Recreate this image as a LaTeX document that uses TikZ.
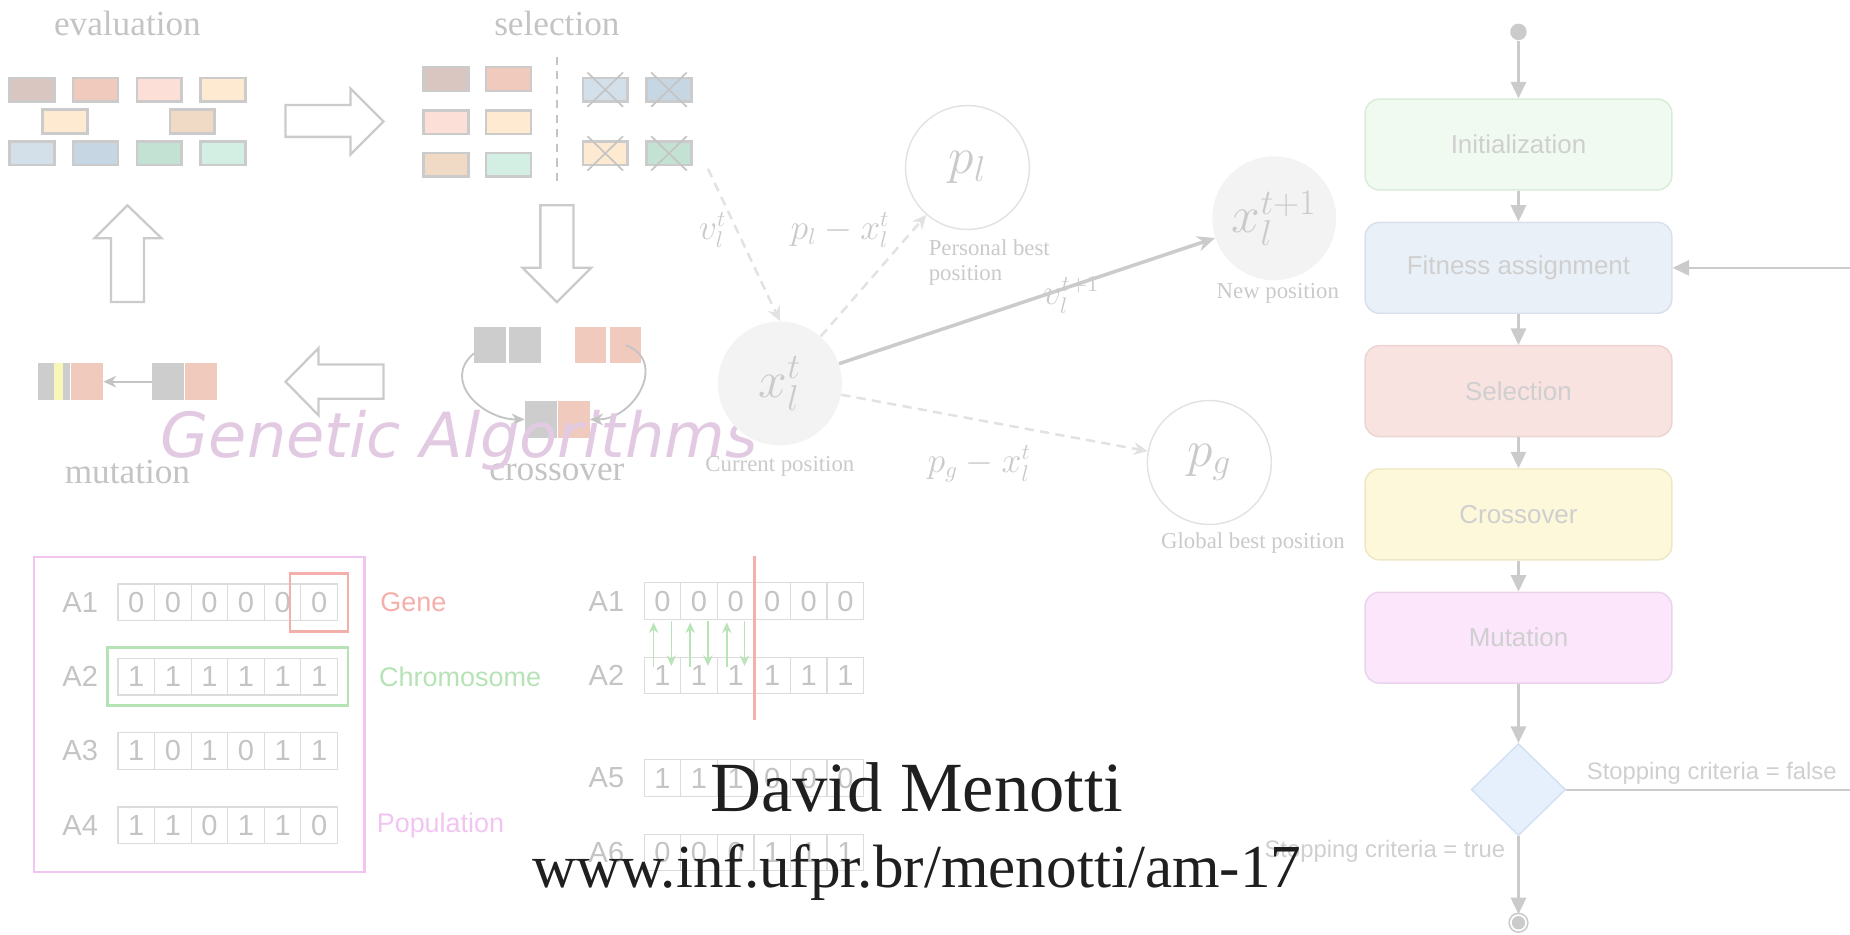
\documentclass[tikz,border=0pt]{standalone}
\usepackage{fontspec}
\setmainfont{Liberation Serif}
\setsansfont{Liberation Sans}
\newfontfamily\wmfont{DejaVu Sans}
\usepackage{tikz}
\usetikzlibrary{shapes.geometric, arrows, arrows.meta, positioning, fit}

\definecolor{linegray}{HTML}{CBCBCB}
\definecolor{textgray}{HTML}{C4C4C4}
\definecolor{gaBrown}{HTML}{D9C6C1}
\definecolor{gaSalmon}{HTML}{F1CABE}
\definecolor{gaPink}{HTML}{FCDFD6}
\definecolor{gaCream}{HTML}{FDEAD1}
\definecolor{gaTan}{HTML}{F0DAC6}
\definecolor{gaLBlue}{HTML}{D3E0EA}
\definecolor{gaBlue}{HTML}{C7D6E3}
\definecolor{gaGreen}{HTML}{C3E2D4}
\definecolor{gaMint}{HTML}{D3EEE3}
\definecolor{gaGray}{HTML}{CDCDCD}
\definecolor{gaYellow}{HTML}{F9F7B8}
\definecolor{wmPurple}{HTML}{E3CAE3}
\definecolor{psoFill}{HTML}{F3F3F3}
\definecolor{psoLine}{HTML}{E2E2E2}
\definecolor{psoText}{HTML}{CACACA}
\definecolor{geneRed}{HTML}{F5AFAA}
\definecolor{chromGreen}{HTML}{B5E3B5}
\definecolor{popPink}{HTML}{F2C4F2}
\definecolor{cellGray}{HTML}{DCDCDC}
\definecolor{cutRed}{HTML}{F5B0AE}
\definecolor{swapGreen}{HTML}{B8E4B8}
\definecolor{flowText}{HTML}{CFCFCF}
\definecolor{initFill}{HTML}{F0FAF0}
\definecolor{initDraw}{HTML}{D9EBD9}
\definecolor{fitFill}{HTML}{EAF0F8}
\definecolor{fitDraw}{HTML}{D8E0EB}
\definecolor{selFill}{HTML}{F8E3E1}
\definecolor{selDraw}{HTML}{EBD4D2}
\definecolor{crossFill}{HTML}{FDF8DA}
\definecolor{crossDraw}{HTML}{EDE7C4}
\definecolor{mutFill}{HTML}{FBE6FC}
\definecolor{mutDraw}{HTML}{EAD3EC}
\definecolor{diaFill}{HTML}{E5F0FC}
\definecolor{diaDraw}{HTML}{D2E1F2}

\tikzstyle{gabox} = [rectangle, draw=linegray, line width=1.2pt, minimum width=7.6mm, minimum height=4mm, inner sep=0pt]
\tikzstyle{gacell} = [rectangle, minimum width=5.4mm, minimum height=6.2mm, inner sep=0pt]
\tikzstyle{gatitle} = [text=textgray, font=\fontsize{17}{20}\selectfont]
\tikzstyle{blockarrow} = [draw=linegray, line width=1.1pt, fill=white]
\tikzstyle{crossline} = [draw=textgray, line width=0.8pt]
\tikzstyle{gadivider} = [draw=textgray, line width=0.8pt, dash pattern=on 4pt off 3pt]
\tikzstyle{gaarrow} = [draw=textgray, line width=0.9pt, -{Stealth[length=2.2mm,width=2mm]}]
\tikzstyle{bitcell} = [rectangle, draw=cellGray, line width=0.6pt, minimum size=6.2mm, inner sep=0pt, text=textgray, font=\sffamily\fontsize{14}{16}\selectfont]
\tikzstyle{bitlabel} = [text=textgray, font=\sffamily\fontsize{14}{16}\selectfont]
\tikzstyle{swaparrow} = [draw=swapGreen, line width=0.8pt, -{Stealth[length=1.8mm,width=1.6mm]}]
\tikzstyle{psofull} = [circle, fill=psoFill, minimum size=21mm, inner sep=0pt, text=psoText, font=\fontsize{26}{30}\selectfont]
\tikzstyle{psoopen} = [circle, draw=psoLine, line width=0.7pt, minimum size=21mm, inner sep=0pt, text=psoText, font=\fontsize{26}{30}\selectfont]
\tikzstyle{psotext} = [text=psoText, font=\fontsize{11}{12}\selectfont]
\tikzstyle{psomath} = [text=psoText, font=\fontsize{16}{18}\selectfont]
\tikzstyle{psodash} = [draw=psoLine, line width=1.2pt, dash pattern=on 4.5pt off 3pt, -{Stealth[length=2.4mm,width=2.2mm]}]
\tikzstyle{psosolid} = [draw=linegray, line width=1.7pt, -{Stealth[length=3mm,width=2.6mm]}]
\tikzstyle{flowbox} = [rectangle, rounded corners=2.4mm, minimum width=52mm, minimum height=15.4mm, line width=0.7pt, text=flowText, font=\sffamily\fontsize{12.5}{14}\selectfont]
\tikzstyle{flowarrow} = [draw=linegray, line width=1pt, -{Triangle[length=2.8mm,width=2.6mm]}]
\tikzstyle{flowlabel} = [text=flowText, inner sep=0pt, font=\sffamily\fontsize{11.5}{13}\selectfont]

% name, label, left edge of first cell, y, bits
\newcommand{\bitrow}[5]{%
  \node (#1l) [bitlabel] at (#3-32,#4) {#2};
  \foreach \b [count=\i] in {#5}
    \node (#1c\i) [bitcell] at ({#3+(\i-0.5)*31},#4) {\b};
}

\begin{document}
\begin{tikzpicture}[x=0.2mm, y=-0.2mm, node distance=2.09cm]
\useasboundingbox (0,0) rectangle (1568,792);
\clip (0,0) rectangle (1568,792);

% genetic algorithm cycle
\node (evaltitle) [gatitle] at (108,20) {evaluation};
\node (seltitle) [gatitle] at (472,20) {selection};
\node (crosstitle) [gatitle] at (472,400) {crossover};
\node (mutatetitle) [gatitle] at (108,400) {mutation};

\foreach \x/\y/\c [count=\k] in {27/76/gaBrown, 81/76/gaSalmon, 135/76/gaPink, 189/76/gaCream, 55/103/gaCream, 163/103/gaTan, 27/130/gaLBlue, 81/130/gaBlue, 135/130/gaGreen, 189/130/gaMint}
  \node (eval\k) [gabox, fill=\c] at (\x,\y) {};

\foreach \x/\y/\c [count=\k] in {378/67/gaBrown, 431/67/gaSalmon, 378/103.5/gaPink, 431/103.5/gaCream, 378/139.5/gaTan, 431/139.5/gaMint}
  \node (keep\k) [gabox, fill=\c] at (\x,\y) {};

\foreach \x/\y/\c [count=\k] in {513/76/gaLBlue, 567/76/gaBlue, 513/130/gaCream, 567/130/gaGreen} {
  \node (drop\k) [gabox, fill=\c] at (\x,\y) {};
  \draw[crossline] ([shift={(1mm,0.7mm)}]drop\k.north west) -- ([shift={(-1mm,-0.7mm)}]drop\k.south east);
  \draw[crossline] ([shift={(-1mm,0.7mm)}]drop\k.north east) -- ([shift={(1mm,-0.7mm)}]drop\k.south west);
}
\draw[gadivider] (472,48) -- (472,158);

% hollow arrows between the steps
\draw[blockarrow] (242,89) -- (297,89) -- (297,75) -- (325,103) -- (297,131) -- (297,116) -- (242,116) -- cycle;
\draw[blockarrow] (458,174) -- (486,174) -- (486,227) -- (501,227) -- (472,256) -- (443,227) -- (458,227) -- cycle;
\draw[blockarrow] (325,309) -- (270,309) -- (270,295) -- (242,323.5) -- (270,352) -- (270,338) -- (325,338) -- cycle;
\draw[blockarrow] (94,256) -- (94,202) -- (80,202) -- (108,174) -- (137,202) -- (122,202) -- (122,256) -- cycle;

% crossover
\node (gp1) [gacell, fill=gaGray] at (415.5,292.5) {};
\node (gp2) [gacell, fill=gaGray, right=0.4mm of gp1] {};
\node (sp1) [gacell, fill=gaSalmon] at (500.5,292.5) {};
\node (sp2) [gacell, fill=gaSalmon, right=0.4mm of sp1] {};
\node (ch1) [gacell, fill=gaGray] at (458.5,355.5) {};
\node (ch2) [gacell, fill=gaSalmon, right=0pt of ch1] {};
\draw[gaarrow] ([yshift=-1.4mm]gp1.west) to[out=220, in=180, looseness=1.3] (ch1.west);
\draw[gaarrow] (sp2.center) to[out=-20, in=0, looseness=1.4] (ch2.east);

% mutation
\node (mr1) [gacell, fill=gaGray] at (142.5,323.5) {};
\node (mr2) [gacell, fill=gaSalmon, right=0pt of mr1] {};
\node (ml1) [gacell, fill=gaGray] at (46,323.5) {};
\node (ml2) [gacell, fill=gaSalmon, right=0pt of ml1] {};
\node (mlbit) [rectangle, fill=gaYellow, minimum width=1.4mm, minimum height=6.2mm, inner sep=0pt] at (49.5,323.5) {};
\draw[gaarrow] (mr1.west) -- (ml2.east);

\node (watermark) [anchor=base west, text=wmPurple, font=\wmfont\itshape\fontsize{30}{34}\selectfont] at (130,388) {Genetic Algorithms};

% particle swarm
\node (xt) [psofull] at (661,325) {$x_l^t$};
\node (pl) [psoopen] at (820,142) {$p_l$};
\node (xt1) [psofull] at (1080,185) {$x_l^{t+1}$};
\node (pg) [psoopen] at (1025,392) {$p_g$};
\node (xtlab) [psotext] at (661,395) {Current position};
\node (pllab) [psotext, align=left, anchor=west] at (781,222.5) {Personal best\\position};
\node (xt1lab) [psotext] at (1083,249) {New position};
\node (pglab) [psotext] at (1062,460) {Global best position};

\coordinate (vin) at (600,143);
\draw[psodash] (vin) -- (xt.north);
\draw[psodash] (xt) -- (pl);
\draw[psodash] (xt) -- (pg);
\draw[psosolid] (xt) -- (xt1);
\node (lbv) [psomath] at (604,195) {$v_l^t$};
\node (lbpl) [psomath] at (712,195) {$p_l - x_l^t$};
\node (lbv1) [psomath] at (908,250) {$v_l^{t+1}$};
\node (lbpg) [psomath] at (830,393) {$p_g - x_l^t$};

% population
\node (pop) [rectangle, draw=popPink, line width=1.2pt, minimum width=56mm, minimum height=53.4mm] at (169,605.5) {};
\bitrow{la1}{A1}{100}{510.5}{0,0,0,0,0,0}
\bitrow{la2}{A2}{100}{573.5}{1,1,1,1,1,1}
\bitrow{la3}{A3}{100}{636.5}{1,0,1,0,1,1}
\bitrow{la4}{A4}{100}{699.5}{1,1,0,1,1,0}
\node (gene) [fit=(la1c6), inner sep=1.7mm, draw=geneRed, line width=1.2pt] {};
\node (chrom) [fit=(la2c1)(la2c6), inner sep=1.7mm, draw=chromGreen, line width=1.2pt] {};
\node (genelab) [right=5.2mm of gene, inner sep=0pt, text=geneRed, font=\sffamily\fontsize{13}{15}\selectfont] {Gene};
\node (chromlab) [right=5mm of chrom, inner sep=0pt, text=chromGreen, font=\sffamily\fontsize{13}{15}\selectfont] {Chromosome};
\node (poplab) [anchor=west, inner sep=0pt, text=popPink, font=\sffamily\fontsize{13}{15}\selectfont] at (319,700) {Population};

% one point crossover
\bitrow{ma1}{A1}{546}{509.5}{0,0,0,0,0,0}
\bitrow{ma2}{A2}{546}{572.5}{1,1,1,1,1,1}
\bitrow{ma5}{A5}{546}{659.5}{1,1,1,0,0,0}
\bitrow{ma6}{A6}{546}{722.5}{0,0,0,1,1,1}
\foreach \i in {1,2,3} {
  \draw[swaparrow] ([xshift=-1.5mm, yshift=-1.8mm]ma2c\i.north) -- ([xshift=-1.5mm, yshift=-0.4mm]ma1c\i.south);
  \draw[swaparrow] ([xshift=1.5mm, yshift=-0.2mm]ma1c\i.south) -- ([xshift=1.5mm, yshift=-1.6mm]ma2c\i.north);
}
\draw[draw=cutRed, line width=1.2pt] ([yshift=4.4mm]ma1c3.north east) -- ([yshift=-4.4mm]ma2c3.south east);

% flowchart
\node (init) [flowbox, fill=initFill, draw=initDraw] at (1287,122.5) {Initialization};
\node (fit) [flowbox, fill=fitFill, draw=fitDraw, below of=init] {Fitness assignment};
\node (sel) [flowbox, fill=selFill, draw=selDraw, below of=fit] {Selection};
\node (cross) [flowbox, fill=crossFill, draw=crossDraw, below of=sel] {Crossover};
\node (mut) [flowbox, fill=mutFill, draw=mutDraw, below of=cross] {Mutation};
\node (begin) [circle, fill=linegray, minimum size=2.8mm, inner sep=0pt, above=9.8mm of init] {};
\node (dia) [diamond, fill=diaFill, draw=diaDraw, line width=0.7pt, minimum width=16mm, minimum height=15.6mm, inner sep=0pt, below=10mm of mut] {};
\node (stop) [circle, draw=linegray, line width=0.8pt, double=white, double distance=0.8pt, fill=linegray, minimum size=2.6mm, inner sep=0pt, below=13.2mm of dia] {};

\draw[flowarrow] (begin) -- (init);
\draw[flowarrow] (init) -- (fit);
\draw[flowarrow] (fit) -- (sel);
\draw[flowarrow] (sel) -- (cross);
\draw[flowarrow] (cross) -- (mut);
\draw[flowarrow] (mut) -- (dia);
\draw[flowarrow] (dia) -- (stop);
\coordinate (loop) at (1600,0);
\draw[flowarrow] (dia.east) -- (dia.east -| loop) |- (fit.east);
\node (falselab) [flowlabel, anchor=south west] at ([xshift=3.4mm, yshift=0.8mm]dia.east) {Stopping criteria = false};
\node (truelab) [flowlabel, anchor=north east] at ([xshift=-2.2mm, yshift=-0.6mm]dia.south) {Stopping criteria = true};

% title
\node (author) [anchor=base, text=black!88, font=\fontsize{34}{40}\selectfont] at (777,688) {David Menotti};
\node (site) [anchor=base, text=black!88, font=\fontsize{29.5}{34}\selectfont] at (777,752) {www.inf.ufpr.br/menotti/am-17};
\end{tikzpicture}
\end{document}
